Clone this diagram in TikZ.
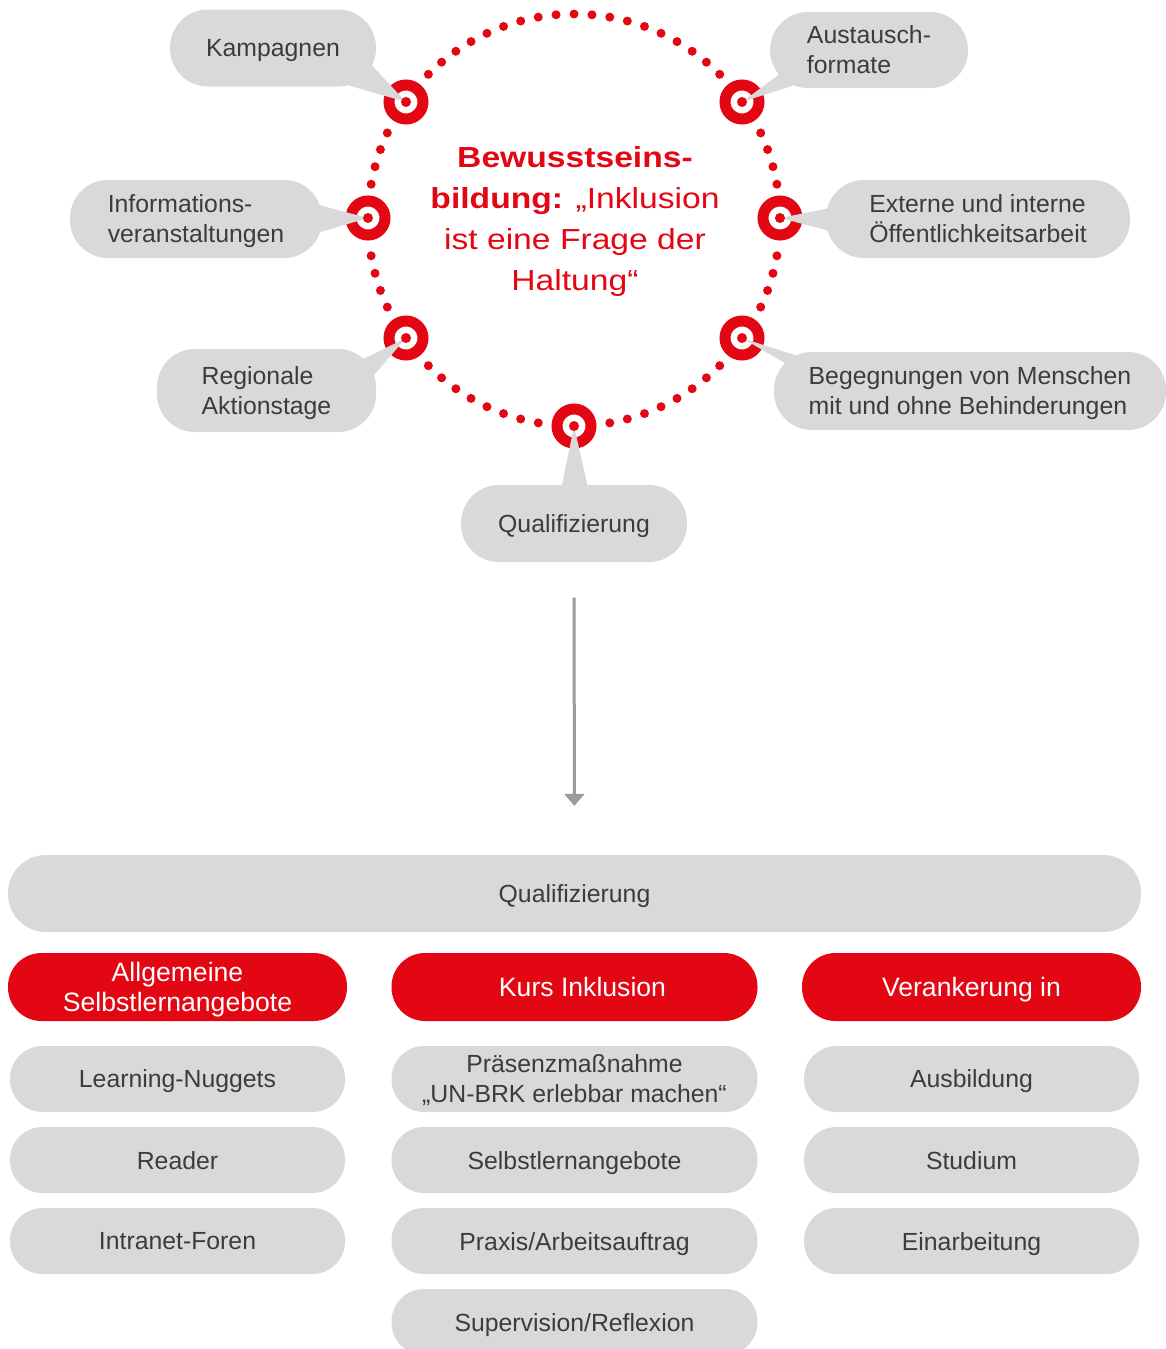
\documentclass[tikz,border=0pt]{standalone}
\usepackage{fontspec}
\setmainfont{Liberation Sans}
\newfontfamily\titlefont[FakeStretch=1.16]{Liberation Sans}
\usetikzlibrary{calc,arrows.meta}
\definecolor{dbred}{HTML}{E30613}
\definecolor{bubblegray}{HTML}{D9D9D9}
\definecolor{textgray}{HTML}{3C3C3C}
\definecolor{arrowgray}{HTML}{9B9B9B}
\begin{document}
\begin{tikzpicture}[x=1pt,y=-1pt]
        \tikzstyle{every node}=[font=\fontsize{24.8}{30}\selectfont, text=textgray, inner sep=0pt, text depth=0pt]
        \tikzstyle{bubble}=[fill=bubblegray, align=left, minimum height=77pt, rounded corners=38pt]
        \tikzstyle{marker}=[circle, fill=white, draw=dbred, line width=11pt, minimum size=34pt]
        \tikzstyle{redbox}=[fill=dbred, text=white, align=center, font=\fontsize{26.6}{30}\selectfont, minimum height=68pt, rounded corners=33.5pt]
        \tikzstyle{graybox}=[fill=bubblegray, align=center, minimum height=66pt, rounded corners=32.5pt]
        \useasboundingbox (0,0) rectangle (1166,1349);
        \clip (0,0) rectangle (1166,1349);

        \foreach \a in {10,15,...,25,45,50,...,135,155,160,...,170,190,195,...,205,225,230,...,260,280,285,...,315,335,340,...,350}
            \fill[dbred] ({574+206*cos(\a)},{220-206*sin(\a)}) circle (4.5);

        \node[marker] (mkamp) at (406,102) {};
        \node[marker] (maust) at (742,102) {};
        \node[marker] (minfo) at (368,218) {};
        \node[marker] (mext) at (780,218) {};
        \node[marker] (mreg) at (406,338) {};
        \node[marker] (mbeg) at (742,338) {};
        \node[marker] (mqual) at (574,426) {};

        \coordinate (ckamp) at (273,48);
        \coordinate (caust) at (869,50);
        \coordinate (cinfo) at (196,219);
        \coordinate (cext) at (978,219);
        \coordinate (creg) at (266.5,390.5);
        \coordinate (cbeg) at (970,391);
        \coordinate (cqual) at (574,523.5);

        \fill[bubblegray] ($(ckamp)+(57,32)$) -- (mkamp.center) -- ($(ckamp)+(92,10)$) -- cycle;
        \fill[bubblegray] ($(caust)+(-84,20)$) -- (maust.center) -- ($(caust)+(-59,30)$) -- cycle;
        \fill[bubblegray] ($(cinfo)+(104,-19)$) -- (minfo.center) -- ($(cinfo)+(104,19)$) -- cycle;
        \fill[bubblegray] ($(cext)+(-133,-14)$) -- (mext.center) -- ($(cext)+(-133,16)$) -- cycle;
        \fill[bubblegray] ($(creg)+(78.5,-22.5)$) -- (mreg.center) -- ($(creg)+(101.5,-8.5)$) -- cycle;
        \fill[bubblegray] ($(cbeg)+(-170,-19)$) -- (mbeg.center) -- ($(cbeg)+(-145,-26)$) -- cycle;
        \fill[bubblegray] ($(cqual)+(-16,-18.5)$) -- (mqual.center) -- ($(cqual)+(18,-18.5)$) -- cycle;

        \foreach \m in {mkamp,maust,minfo,mext,mreg,mbeg,mqual}
            \fill[dbred] (\m.center) circle (5);

        \node[bubble, minimum width=206pt] (kamp) at (ckamp) {Kampagnen};
        \node[bubble, minimum width=198pt, minimum height=76pt] (aust) at (caust) {Austausch-\\formate};
        \node[bubble, minimum width=252pt, minimum height=78pt] (info) at (cinfo) {Informations-\\veranstaltungen};
        \node[bubble, minimum width=304pt, minimum height=78pt] (ext) at (cext) {Externe und interne\\Öffentlichkeitsarbeit};
        \node[bubble, minimum width=219pt, minimum height=83pt] (reg) at (creg) {Regionale\\Aktionstage};
        \node[bubble, minimum width=392pt, minimum height=78pt] (beg) at (cbeg) {Begegnungen von Menschen\\mit und ohne Behinderungen};
        \node[bubble, minimum width=226pt] (qual) at (cqual) {Qualifizierung};

        \node[text=dbred, align=center, font=\titlefont\fontsize{29}{41}\selectfont] (title) at (575,218.5) {\textbf{Bewusstseins-}\\\textbf{bildung:} „Inklusion\\ist eine Frage der\\Haltung“};

        \node[graybox, minimum width=1133pt, minimum height=77pt, rounded corners=38pt] (qualbar) at (574.5,893.5) {Qualifizierung};
        \draw[arrowgray, line width=3pt, -{Triangle[width=20pt,length=12pt]}, shorten <=35.5pt, shorten >=49pt] (qual.south) -- (qualbar.north);

        \node[redbox, minimum width=339pt] (allg) at (177.5,987) {Allgemeine\\Selbstlernangebote};
        \node[redbox, minimum width=366pt] (kurs) at (574.5,987) {\hspace*{16pt}Kurs Inklusion};
        \node[redbox, minimum width=339pt] (veran) at (971.5,987) {Verankerung in};

        \node[graybox, minimum width=335pt] (nuggets) at (177.5,1079) {Learning-Nuggets};
        \node[graybox, minimum width=335pt] (reader) at (177.5,1160) {Reader};
        \node[graybox, minimum width=335pt] (foren) at (177.5,1241) {Intranet-Foren};

        \node[graybox, minimum width=366pt] (praes) at (574.5,1079) {Präsenzmaßnahme\\„UN-BRK erlebbar machen“};
        \node[graybox, minimum width=366pt] (selbst) at (574.5,1160) {Selbstlernangebote};
        \node[graybox, minimum width=366pt] (praxis) at (574.5,1241) {Praxis/Arbeitsauftrag};
        \node[graybox, minimum width=366pt] (superv) at (574.5,1322) {Supervision/Reflexion};

        \node[graybox, minimum width=335pt] (ausb) at (971.5,1079) {Ausbildung};
        \node[graybox, minimum width=335pt] (stud) at (971.5,1160) {Studium};
        \node[graybox, minimum width=335pt] (einarb) at (971.5,1241) {Einarbeitung};
\end{tikzpicture}
\end{document}
